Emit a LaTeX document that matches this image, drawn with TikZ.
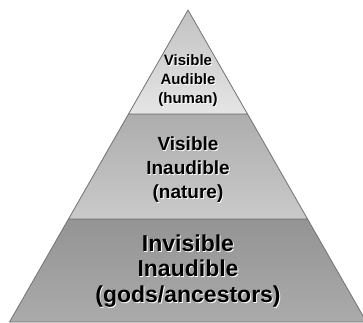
\documentclass[tikz,border=0pt]{standalone}
\usepackage{fontspec}
\setmainfont{Liberation Sans}
\begin{document}
\begin{tikzpicture}[x=1pt,y=1pt,
  tier/.style={draw=gray!90!black,line width=0.8pt,line join=round},
  label/.style={font=\bfseries,align=center,inner sep=0pt},
  small/.style={label,font=\bfseries\fontsize{15}{19}\selectfont},
  medium/.style={label,font=\bfseries\fontsize{19}{24}\selectfont},
  large/.style={label,font=\bfseries\fontsize{23}{25.5}\selectfont},
  glow/.style={text=white,xshift=0.9pt,yshift=-0.9pt}
  ]
  \useasboundingbox (0,0) rectangle (363,322);
  \coordinate (apex) at (188,312);
  \coordinate (tl) at (128.5,208);
  \coordinate (tr) at (247.5,208);
  \coordinate (ml) at (68.5,103);
  \coordinate (mr) at (307.5,103);
  \coordinate (bl) at (9.5,0);
  \coordinate (br) at (366.5,0);
  % tiers
  \shade[tier,top color=black!42,bottom color=black!33]
    (ml) -- (mr) -- (br) -- (bl) -- cycle;
  \shade[tier,top color=black!32,bottom color=black!21]
    (tl) -- (tr) -- (mr) -- (ml) -- cycle;
  \shade[tier,top color=black!24,bottom color=black!10]
    (apex) -- (tr) -- (tl) -- cycle;
  % labels
  \node[small,glow] at (188,241) {Visible\\Audible\\(human)};
  \node[small] (human) at (188,241) {Visible\\Audible\\(human)};
  \node[medium,glow] at (188,152) {Visible\\Inaudible\\(nature)};
  \node[medium] (nature) at (188,152) {Visible\\Inaudible\\(nature)};
  \node[large,glow] at (188,51) {Invisible\\Inaudible\\(gods/ancestors)};
  \node[large] (gods) at (188,51) {Invisible\\Inaudible\\(gods/ancestors)};
\end{tikzpicture}
\end{document}
